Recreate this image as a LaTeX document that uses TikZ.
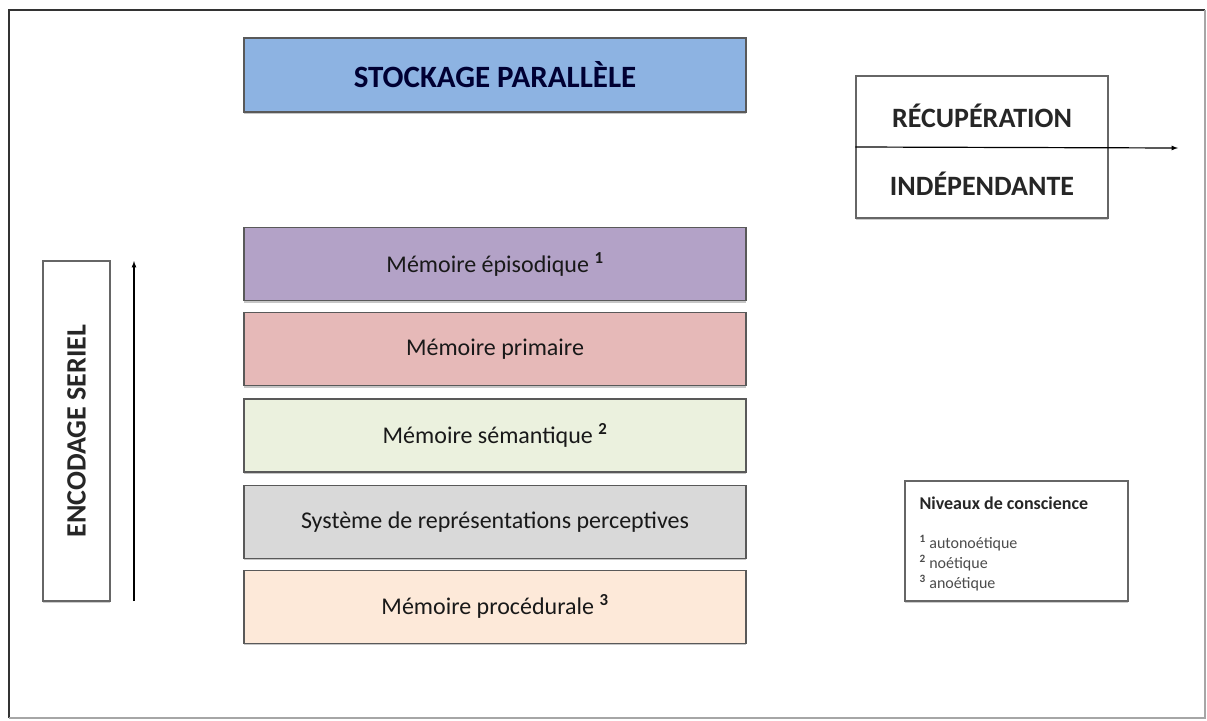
\documentclass[tikz,border=0pt]{standalone}
\usepackage{fontspec}
\setmainfont{Carlito}
\usetikzlibrary{positioning,shadows}
\definecolor{stockblue}{HTML}{8DB3E2}
\definecolor{episodic}{HTML}{B3A2C7}
\definecolor{primary}{HTML}{E6B9B8}
\definecolor{semantic}{HTML}{EBF1DE}
\definecolor{percept}{HTML}{D9D9D9}
\definecolor{procedural}{HTML}{FDE9D9}
\tikzset{
	membox/.style={draw=black!65, line width=1.2pt, minimum width=502pt, minimum height=73pt, inner sep=0pt,
		drop shadow={shadow xshift=0pt, shadow yshift=-2pt, opacity=0.45}, text=black!90, font=\fontsize{24}{28}\selectfont},
	sidebox/.style={draw=black!60, line width=1.2pt, fill=white, inner sep=0pt,
		drop shadow={shadow xshift=0pt, shadow yshift=-2pt, opacity=0.4}},
	headtext/.style={font=\fontsize{28}{32}\selectfont\bfseries, text=black!85}
}
\begin{document}
\begin{tikzpicture}[x=1pt, y=-1pt]
		%%%%% START %%%%%
		\useasboundingbox (0, 0) rectangle (1207, 720);
		
		% frame
		\draw[line width=2.2pt, color=black!80] (9, 718) -- (9, 10) -- (1205, 10);
		\draw[line width=1.6pt, color=black!35] (1205, 10) -- (1205, 718) -- (9, 718);
		
		\node[membox, fill=stockblue, minimum height=74pt, text=black!80!blue, font=\fontsize{31}{35}\selectfont\bfseries] (stock) at (495, 75) {STOCKAGE PARALLÈLE};
		
		\node[membox, fill=episodic] (episod) at (495, 264) {Mémoire épisodique \textsuperscript{\textbf{1}}};
		\node[membox, fill=primary, below=11pt of episod] (primaire) {Mémoire primaire};
		\node[membox, fill=semantic, below=12pt of primaire] (semant) {Mémoire sémantique \textsuperscript{\textbf{2}}};
		\node[membox, fill=percept, below=12pt of semant] (srp) {Système de représentations perceptives};
		\node[membox, fill=procedural, below=11pt of srp] (proced) {Mémoire procédurale \textsuperscript{\textbf{3}}};
		
		% recuperation
		\node[sidebox, minimum width=252pt, minimum height=142pt] (recup) at (982, 147) {};
		\node[headtext] (recupA) at (982, 116) {RÉCUPÉRATION};
		\node[headtext] (recupB) at (982, 184) {INDÉPENDANTE};
		\coordinate (recupend) at (1178, 148);
		\draw[line width=1.2pt, -latex] (recup.west) -- (recupend);
		
		% encodage
		\node[sidebox, minimum width=67pt, minimum height=340pt] (enc) at (76.5, 431) {};
		\node[headtext, rotate=90] (enclabel) at (enc.center) {ENCODAGE SERIEL};
		\coordinate (encfrom) at (134, 601);
		\coordinate (encto) at (134, 261);
		\draw[line width=1.2pt, -latex] (encfrom) -- (encto);
		
		% legende
		\node[sidebox, minimum width=223pt, minimum height=120pt] (legend) at (1016.5, 541) {};
		\node[anchor=west, font=\fontsize{18}{20}\selectfont\bfseries, text=black!85] (legtitle) at (916, 503) {Niveaux de conscience};
		\node[anchor=west, font=\fontsize{16}{18}\selectfont, text=black!70] (leg1) at (916, 543) {\textsuperscript{\textbf{1}} autonoétique};
		\node[anchor=west, font=\fontsize{16}{18}\selectfont, text=black!70] (leg2) at (916, 563) {\textsuperscript{\textbf{2}} noétique};
		\node[anchor=west, font=\fontsize{16}{18}\selectfont, text=black!70] (leg3) at (916, 583) {\textsuperscript{\textbf{3}} anoétique};
		
		%%%%% END %%%%%
	\end{tikzpicture}
\end{document}
